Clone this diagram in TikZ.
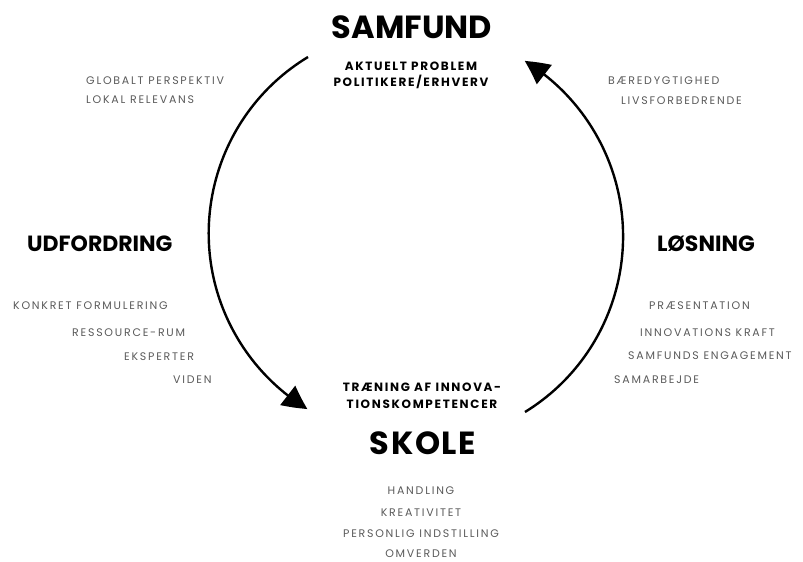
\documentclass[tikz,border=0pt]{standalone}
\usepackage{fontspec}
\setmainfont{Poppins}
\newfontfamily\itemfont[LetterSpace=16]{Poppins}
\newfontfamily\subfont[LetterSpace=14]{Poppins}
\newfontfamily\skolefont[LetterSpace=5]{Poppins}
\usetikzlibrary{arrows.meta,bending}
\definecolor{itemgray}{HTML}{5A5A5A}
\begin{document}
\begin{tikzpicture}[x=1pt,y=-1pt,
  every node/.style={inner sep=0pt},
  bigtitle/.style={font=\fontsize{32}{33}\selectfont\bfseries},
  headtitle/.style={font=\fontsize{22}{23}\selectfont\bfseries},
  subtitle/.style={font=\subfont\fontsize{12}{16}\selectfont\bfseries, align=center},
  itemtext/.style={font=\itemfont\fontsize{11}{12}\selectfont, text=itemgray},
  cyclearrow/.style={line width=2.4pt, -{Triangle[length=24pt,width=24pt,bend]}}]
\useasboundingbox (0,0) rectangle (803,562);
% titles
\node[bigtitle] (samfund) at (412,27.5) {SAMFUND};
\node[subtitle] (aktuelt) at (411,75) {AKTUELT PROBLEM\\POLITIKERE/ERHVERV};
\node[headtitle, anchor=west] (udf) at (27,244) {UDFORDRING};
\node[headtitle, anchor=west] (losning) at (657,244) {LØSNING};
\node[subtitle, font=\subfont\fontsize{12}{16.5}\selectfont\bfseries] (traening) at (422,396) {TRÆNING AF INNOVA-\\TIONSKOMPETENCER};
\node[bigtitle, font=\skolefont\fontsize{32}{33}\selectfont\bfseries] (skole) at (423,443) {SKOLE};
% top left
\node[itemtext, anchor=west] (glob) at (86,81) {GLOBALT PERSPEKTIV};
\node[itemtext, anchor=west] (lokal) at (86,100) {LOKAL RELEVANS};
% top right
\node[itemtext, anchor=west] (baer) at (608,81) {BÆREDYGTIGHED};
\node[itemtext, anchor=west] (livs) at (621,101) {LIVSFORBEDRENDE};
% left list
\node[itemtext, anchor=west] (konkret) at (13,306) {KONKRET FORMULERING};
\node[itemtext, anchor=west] (ress) at (72,333) {RESSOURCE-RUM};
\node[itemtext, anchor=west] (eksp) at (124,357) {EKSPERTER};
\node[itemtext, anchor=west] (viden) at (173,380) {VIDEN};
% right list
\node[itemtext, anchor=west] (praes) at (649,306) {PRÆSENTATION};
\node[itemtext, anchor=west] (innov) at (640,333) {INNOVATIONS KRAFT};
\node[itemtext, anchor=west] (samfeng) at (628,356) {SAMFUNDS ENGAGEMENT};
\node[itemtext, anchor=west] (samar) at (614,380) {SAMARBEJDE};
% bottom list
\node[itemtext] (handling) at (421,491) {HANDLING};
\node[itemtext] (krea) at (421,513) {KREATIVITET};
\node[itemtext] (pers) at (421,534) {PERSONLIG INDSTILLING};
\node[itemtext] (omv) at (421,554) {OMVERDEN};
% arcs
\coordinate (leftstart) at (308,57);
\coordinate (rightstart) at (525,412);
\draw[cyclearrow] (leftstart) arc[start angle=121.2, end angle=238.6, radius=206pt];
\draw[cyclearrow] (rightstart) arc[start angle=-58.4, end angle=58.5, radius=206pt];
\end{tikzpicture}
\end{document}
